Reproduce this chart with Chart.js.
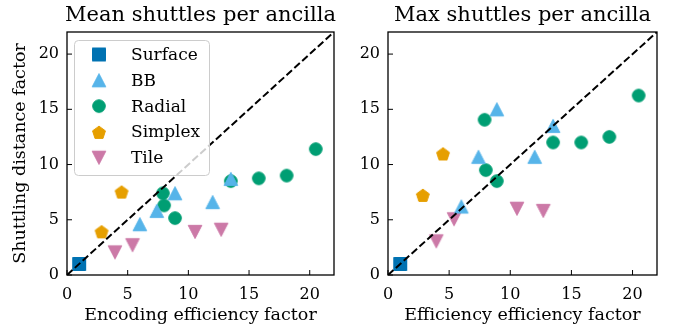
<!DOCTYPE html>
<html>
<head>
<meta charset="utf-8">
<script src="https://cdn.jsdelivr.net/npm/chart.js@4.4.0/dist/chart.umd.min.js"></script>
<style>
    html, body { margin: 0; padding: 0; background: #fff; }
    #wrap { display: flex; width: 673px; height: 328px; }
    canvas { display: block; }
</style>
</head>
<body>
<div id="wrap">
    <canvas id="meanChart" width="350" height="328" style="width:350px;height:328px"></canvas>
    <canvas id="maxChart" width="323" height="328" style="width:323px;height:328px"></canvas>
</div>
<script>
// ----- Data
const axisTicks = [0, 5, 10, 15, 20];
const axisRange = [0, 22];
const diagonal = [0, 22];

const surfaceX = [1];
const bbX = [6.0, 7.4, 8.9, 12.0, 13.5];
const radialX = [7.9, 8.0, 8.9, 13.5, 15.8, 18.1, 20.5];
const simplexX = [2.85, 4.5];
const tileX = [3.95, 5.4, 10.55, 12.7];

// mean shuttles per ancilla
const surfaceMeanY = [1];
const bbMeanY = [4.6, 5.8, 7.4, 6.6, 8.7];
const radialMeanY = [7.4, 6.3, 5.15, 8.5, 8.75, 9.0, 11.4];
const simplexMeanY = [3.95, 7.55];
const tileMeanY = [2.05, 2.7, 3.9, 4.1];

// max shuttles per ancilla
const surfaceMaxY = [1];
const bbMaxY = [6.2, 10.7, 15.0, 10.7, 13.5];
const radialMaxY = [14.05, 9.5, 8.5, 12.0, 12.0, 12.5, 16.25];
const simplexMaxY = [7.25, 11.0];
const tileMaxY = [3.05, 5.05, 6.0, 5.8];

const seriesNames = ['Surface', 'BB', 'Radial', 'Simplex', 'Tile'];
const seriesColors = ['#0072B2', '#56B4E9', '#009E73', '#E69F00', '#CC79A7'];
const seriesShapes = ['square', 'triUp', 'circle', 'pentagon', 'triDown'];

const FONT = '"DejaVu Serif", serif';

// ----- Marker images (matplotlib-like shapes)
function marker(shape, color) {
    const c = document.createElement('canvas');
    c.width = 20; c.height = 20;
    const g = c.getContext('2d');
    const m = 10;
    g.fillStyle = color; g.strokeStyle = color; g.lineWidth = 1;
    g.beginPath();
    if (shape === 'square') {
        g.rect(m - 6.5, m - 6.5, 13, 13);
    } else if (shape === 'circle') {
        g.arc(m, m, 6.3, 0, Math.PI * 2);
    } else if (shape === 'triUp') {
        g.moveTo(m, m - 6.6); g.lineTo(m - 6.8, m + 6.6); g.lineTo(m + 6.8, m + 6.6); g.closePath();
    } else if (shape === 'triDown') {
        g.moveTo(m, m + 6.6); g.lineTo(m - 6.8, m - 6.6); g.lineTo(m + 6.8, m - 6.6); g.closePath();
    } else if (shape === 'pentagon') {
        for (let k = 0; k < 5; k++) {
            const a = -Math.PI / 2 + k * 2 * Math.PI / 5;
            const px = m + 6.8 * Math.cos(a), py = m + 1 + 6.8 * Math.sin(a);
            k ? g.lineTo(px, py) : g.moveTo(px, py);
        }
        g.closePath();
    }
    g.fill(); g.stroke();
    return c;
}
const markers = seriesShapes.map((s, i) => marker(s, seriesColors[i]));

function pts(xs, ys) { return xs.map((x, i) => ({ x, y: ys[i] })); }

// ----- Frame, inward ticks and panel title
const framePlugin = {
    id: 'frame',
    afterDatasetsDraw(chart, args, opts) {
        const { ctx, chartArea: a, scales: { x, y } } = chart;
        ctx.save();
        ctx.strokeStyle = '#000';
        ctx.lineWidth = 1.3;
        ctx.strokeRect(a.left, a.top, a.right - a.left, a.bottom - a.top);
        ctx.lineWidth = 1;
        ctx.beginPath();
        axisTicks.forEach(v => {
            const px = x.getPixelForValue(v);
            ctx.moveTo(px, a.bottom); ctx.lineTo(px, a.bottom - 5);
            const py = y.getPixelForValue(v);
            ctx.moveTo(a.left, py); ctx.lineTo(a.left + 5, py);
        });
        ctx.stroke();
        ctx.fillStyle = '#000';
        ctx.font = `21px ${FONT}`;
        ctx.textAlign = 'center';
        ctx.textBaseline = 'alphabetic';
        ctx.fillText(opts.text, (a.left + a.right) / 2, 21);
        ctx.restore();
    }
};

// ----- Legend box in the upper left of the first panel
const legendPlugin = {
    id: 'boxLegend',
    afterDraw(chart) {
        const { ctx } = chart;
        const x0 = 74, y0 = 40, w = 135, h = 135, r = 4;
        ctx.save();
        ctx.beginPath();
        ctx.roundRect(x0 + 0.5, y0 + 0.5, w, h, r);
        ctx.fillStyle = 'rgba(255,255,255,0.8)';
        ctx.fill();
        ctx.strokeStyle = '#cccccc';
        ctx.lineWidth = 1;
        ctx.stroke();
        ctx.font = `17px ${FONT}`;
        ctx.fillStyle = '#000';
        ctx.textAlign = 'left';
        ctx.textBaseline = 'middle';
        seriesNames.forEach((name, i) => {
            const cy = 54.5 + i * 25.8;
            ctx.drawImage(markers[i], 99 - 10, cy - 10);
            ctx.fillText(name, 131, cy + 1);
        });
        ctx.restore();
    }
};

function makeChart(id, title, ys, xLabel, yLabel, yWidth, extraPlugins) {
    const scatterSets = seriesNames.map((name, i) => ({
        type: 'scatter',
        label: name,
        data: pts([surfaceX, bbX, radialX, simplexX, tileX][i], ys[i]),
        pointStyle: markers[i],
        pointRadius: 7,
        order: 1
    }));
    return new Chart(document.getElementById(id), {
        type: 'scatter',
        data: {
            datasets: [
                {
                    type: 'scatter',
                    label: 'y = x',
                    data: pts(diagonal, diagonal),
                    showLine: true,
                    borderColor: '#000',
                    borderWidth: 2,
                    borderDash: [7.4, 3.2],
                    pointRadius: 0,
                    order: 0
                },
                ...scatterSets
            ]
        },
        options: {
            responsive: false,
            animation: false,
            devicePixelRatio: 1,
            layout: { padding: { top: 32, right: 16, left: 0, bottom: 0 } },
            plugins: {
                legend: { display: false },
                tooltip: { enabled: false },
                frame: { text: title }
            },
            scales: {
                x: {
                    type: 'linear',
                    min: axisRange[0], max: axisRange[1],
                    grid: { display: false, drawTicks: false },
                    border: { display: false },
                    afterBuildTicks: s => { s.ticks = axisTicks.map(v => ({ value: v })); },
                    afterFit: s => { s.height = 53; },
                    ticks: { color: '#000', font: { family: FONT, size: 16 }, padding: 10, maxRotation: 0 },
                    title: { display: true, text: xLabel, color: '#000', font: { family: FONT, size: 17.5 }, padding: { top: 0, bottom: 2.5 } }
                },
                y: {
                    type: 'linear',
                    min: axisRange[0], max: axisRange[1],
                    grid: { display: false, drawTicks: false },
                    border: { display: false },
                    afterBuildTicks: s => { s.ticks = axisTicks.map(v => ({ value: v })); },
                    afterFit: s => { s.width = yWidth; },
                    ticks: { color: '#000', font: { family: FONT, size: 16 }, padding: 8 },
                    title: { display: !!yLabel, text: yLabel, color: '#000', font: { family: FONT, size: 17.5 }, padding: { top: 9.5, bottom: 0 } }
                }
            }
        },
        plugins: [framePlugin, ...extraPlugins]
    });
}

makeChart('meanChart', 'Mean shuttles per ancilla',
    [surfaceMeanY, bbMeanY, radialMeanY, simplexMeanY, tileMeanY],
    'Encoding efficiency factor', 'Shuttling distance factor', 67, [legendPlugin]);

makeChart('maxChart', 'Max shuttles per ancilla',
    [surfaceMaxY, bbMaxY, radialMaxY, simplexMaxY, tileMaxY],
    'Efficiency efficiency factor', '', 38, []);
</script>
</body>
</html>
